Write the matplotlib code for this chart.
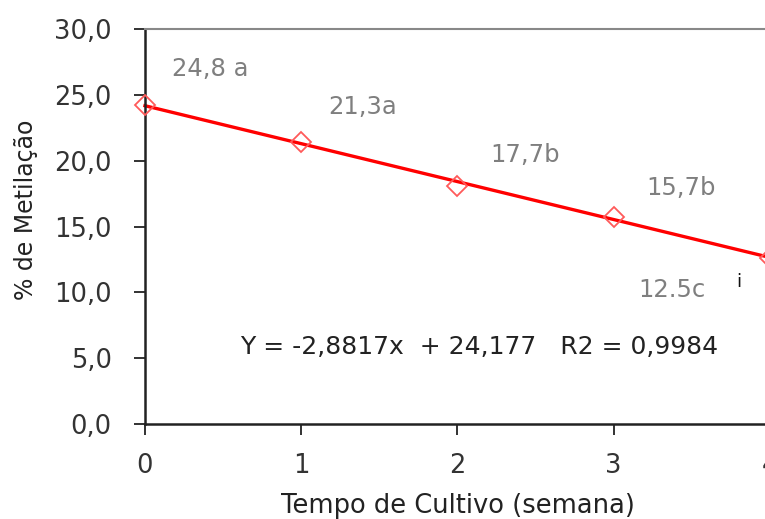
import numpy as np
import matplotlib.pyplot as plt

plt.rcParams['font.family'] = ['DejaVu Sans']

# --- data ---
semanas = [0, 1, 2, 3, 4]
metilacao = [24.2, 21.4, 18.1, 15.7, 12.6]
rotulos = ['24,8 a', '21,3a', '17,7b', '15,7b', '12.5c']
rotulo_x = [0.42, 1.39, 2.43, 3.43, 3.37]
rotulo_y = [27.0, 24.1, 20.4, 17.9, 10.2]
coef_a, coef_b = -2.8817, 24.177

fig = plt.figure(figsize=(7.65, 5.19), dpi=100)
ax = fig.add_axes([0.1895, 0.183, 0.817, 0.761])

xs = np.array([0, 4])
ax.plot(xs, coef_a * xs + coef_b, color='#ff0000', lw=2.4, zorder=2, clip_on=False)
ax.plot(semanas, metilacao, ls='none', marker='D', ms=10, mfc='none',
        mec='#ff5a5a', mew=1.3, zorder=3, clip_on=False)

for t, x, y in zip(rotulos, rotulo_x, rotulo_y):
    ax.text(x, y, t, color='#7f7f7f', fontsize=17.5, ha='center', va='center')
ax.text(3.80, 10.8, 'i', color='#111111', fontsize=13, ha='center', va='center')
ax.text(2.14, 5.85, 'Y = -2,8817x  + 24,177   R2 = 0,9984', color='#222222',
        fontsize=18, ha='center', va='center')

ax.set_xlim(0, 4)
ax.set_ylim(0, 30)
ax.set_xticks(semanas)
ax.set_yticks(np.arange(0, 31, 5))
ax.set_yticklabels([f'{v:.1f}'.replace('.', ',') for v in np.arange(0, 31, 5)])
ax.tick_params(axis='both', direction='out', length=8, width=1.3,
               labelsize=18.5, labelcolor='#333333', color='#222222')
ax.tick_params(axis='x', pad=13)
ax.tick_params(axis='y', pad=16)

ax.spines['left'].set_linewidth(1.8)
ax.spines['left'].set_color('#222222')
ax.spines['bottom'].set_linewidth(1.8)
ax.spines['bottom'].set_color('#222222')
ax.spines['top'].set_color('#888888')
ax.spines['top'].set_linewidth(1.5)
ax.spines['right'].set_visible(False)

ax.set_xlabel('Tempo de Cultivo (semana)', fontsize=18.5, color='#222222', labelpad=10)
ax.set_ylabel('% de Metilação', fontsize=17, color='#222222')
ax.yaxis.set_label_coords(-0.171, 0.542)

fig.savefig('out.png', dpi=100)
